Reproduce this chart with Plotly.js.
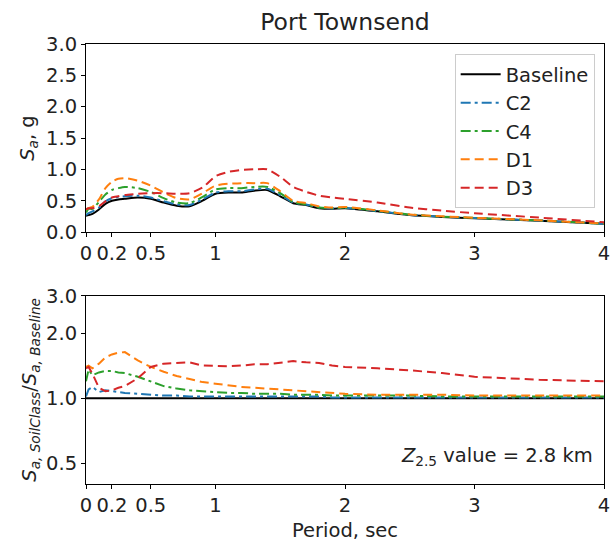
<!DOCTYPE html>
<html>
<head>
<meta charset="utf-8">
<script src="https://cdn.plot.ly/plotly-3.0.1.min.js"></script>
<style>html,body{margin:0;padding:0;background:#fff;}#chart{width:612px;height:544px;}</style>
</head>
<body>
<div id="chart"></div>
<script>
// Periods (sec)
var period = [0, 0.02, 0.05, 0.1, 0.15, 0.2, 0.25, 0.3, 0.4, 0.5, 0.6, 0.7, 0.8, 0.9, 1.0, 1.1, 1.2, 1.3, 1.4, 1.5, 1.6, 1.7, 1.8, 1.9, 2.0, 2.25, 2.5, 2.75, 3.0, 3.5, 4.0];

// Spectral acceleration, g (top panel)
var saBaseline = [0.26, 0.27, 0.29, 0.36, 0.45, 0.50, 0.52, 0.53, 0.55, 0.53, 0.47, 0.42, 0.41, 0.50, 0.61, 0.63, 0.63, 0.66, 0.67, 0.57, 0.46, 0.43, 0.38, 0.37, 0.38, 0.33, 0.27, 0.24, 0.22, 0.18, 0.13];
var saC2 = [0.27, 0.30, 0.33, 0.39, 0.49, 0.54, 0.56, 0.57, 0.58, 0.55, 0.49, 0.44, 0.43, 0.52, 0.63, 0.65, 0.65, 0.68, 0.69, 0.59, 0.47, 0.44, 0.39, 0.375, 0.385, 0.335, 0.273, 0.243, 0.222, 0.182, 0.131];
var saC4 = [0.31, 0.37, 0.37, 0.48, 0.60, 0.67, 0.70, 0.72, 0.70, 0.64, 0.54, 0.47, 0.46, 0.56, 0.68, 0.70, 0.70, 0.72, 0.72, 0.62, 0.48, 0.44, 0.39, 0.38, 0.39, 0.34, 0.28, 0.245, 0.225, 0.185, 0.133];
var saD1 = [0.36, 0.38, 0.40, 0.52, 0.70, 0.80, 0.85, 0.86, 0.82, 0.74, 0.63, 0.54, 0.52, 0.62, 0.74, 0.77, 0.78, 0.78, 0.78, 0.65, 0.50, 0.46, 0.41, 0.39, 0.40, 0.345, 0.28, 0.25, 0.227, 0.186, 0.134];
var saD3 = [0.36, 0.38, 0.38, 0.41, 0.49, 0.55, 0.57, 0.59, 0.61, 0.62, 0.62, 0.61, 0.62, 0.71, 0.89, 0.96, 0.99, 1.00, 1.00, 0.88, 0.72, 0.64, 0.58, 0.55, 0.53, 0.47, 0.39, 0.34, 0.30, 0.23, 0.156];

// Ratio Sa,SoilClass / Sa,Baseline (bottom panel)
var rBaseline = [1, 1, 1, 1, 1, 1, 1, 1, 1, 1, 1, 1, 1, 1, 1, 1, 1, 1, 1, 1, 1, 1, 1, 1, 1, 1, 1, 1, 1, 1, 1];
var rC2 = [1.02, 1.10, 1.13, 1.07, 1.09, 1.08, 1.07, 1.06, 1.05, 1.04, 1.03, 1.03, 1.02, 1.02, 1.02, 1.02, 1.02, 1.02, 1.02, 1.02, 1.02, 1.02, 1.02, 1.01, 1.01, 1.01, 1.01, 1.01, 1.01, 1.01, 1.01];
var rC4 = [1.20, 1.36, 1.28, 1.32, 1.34, 1.34, 1.32, 1.31, 1.26, 1.20, 1.14, 1.11, 1.09, 1.08, 1.07, 1.06, 1.06, 1.05, 1.05, 1.05, 1.04, 1.04, 1.04, 1.03, 1.03, 1.03, 1.03, 1.02, 1.02, 1.02, 1.02];
var rD1 = [1.40, 1.42, 1.38, 1.45, 1.55, 1.60, 1.63, 1.64, 1.50, 1.40, 1.33, 1.27, 1.23, 1.19, 1.17, 1.15, 1.13, 1.12, 1.11, 1.10, 1.09, 1.08, 1.07, 1.06, 1.05, 1.04, 1.04, 1.04, 1.03, 1.03, 1.03];
var rD3 = [1.38, 1.40, 1.30, 1.12, 1.08, 1.09, 1.12, 1.14, 1.24, 1.40, 1.45, 1.46, 1.47, 1.42, 1.41, 1.41, 1.42, 1.44, 1.44, 1.46, 1.49, 1.47, 1.46, 1.42, 1.40, 1.38, 1.35, 1.31, 1.26, 1.22, 1.20];

var seriesNames = ['Baseline', 'C2', 'C4', 'D1', 'D3'];
var seriesColors = ['#000000', '#1f77b4', '#2ca02c', '#ff7f0e', '#d62728'];
var seriesDash = ['solid', '10px,4px,3px,4px', '10px,4px,3px,4px', '9px,5px', '9px,5px'];
var saSeries = [saBaseline, saC2, saC4, saD1, saD3];
var ratioSeries = [rBaseline, rC2, rC4, rD1, rD3];

var xTickVals = [0, 0.2, 0.5, 1, 2, 3, 4];
var xTickText = ['0', '0.2', '0.5', '1', '2', '3', '4'];
var topYTicks = [0, 0.5, 1.0, 1.5, 2.0, 2.5, 3.0];
var botYTicks = [0.5, 1, 2, 3];
var botYText = ['0.5', '1.0', '2.0', '3.0'];

var traces = [];
for (var i = 0; i < seriesNames.length; i++) {
  traces.push({
    x: period, y: saSeries[i], name: seriesNames[i], type: 'scatter', mode: 'lines',
    xaxis: 'x', yaxis: 'y', legendgroup: 'g' + i,
    line: {color: seriesColors[i], width: 2, dash: seriesDash[i], shape: 'spline', smoothing: 0.6}
  });
}
for (var j = 0; j < seriesNames.length; j++) {
  traces.push({
    x: period, y: ratioSeries[j], name: seriesNames[j], type: 'scatter', mode: 'lines',
    xaxis: 'x2', yaxis: 'y2', showlegend: false, legendgroup: 'g' + j,
    line: {color: seriesColors[j], width: 2, dash: seriesDash[j]}
  });
}

var FAM = 'DejaVu Sans, sans-serif';
var FS = 19.5;
var fnt = {family: FAM, size: FS, color: '#222'};
var axisCommon = {
  showline: true, linecolor: '#000', linewidth: 1, mirror: true,
  ticks: 'outside', ticklen: 4, tickwidth: 1, tickcolor: '#000',
  showgrid: false, zeroline: false, tickfont: fnt
};

var layout = {
  width: 612, height: 544,
  margin: {l: 86, r: 8, t: 44, b: 60},
  paper_bgcolor: '#fff', plot_bgcolor: '#fff',
  font: fnt,
  showlegend: true,
  title: {text: 'Port Townsend', font: {family: FAM, size: 23.5, color: '#222'},
          x: 0.5, xref: 'paper', y: 0.96, yref: 'container', yanchor: 'middle'},
  xaxis: Object.assign({}, axisCommon, {domain: [0, 1], range: [0, 4], tickvals: xTickVals, ticktext: xTickText, anchor: 'y'}),
  yaxis: Object.assign({}, axisCommon, {domain: [0.5727, 1], range: [0, 3], tickvals: topYTicks, tickformat: '.1f', anchor: 'x',
    title: {text: '<i>S</i><sub><i>a</i></sub>, g', font: fnt, standoff: 6}}),
  xaxis2: Object.assign({}, axisCommon, {domain: [0, 1], range: [0, 4], tickvals: xTickVals, ticktext: xTickText, anchor: 'y2',
    title: {text: 'Period, sec', font: fnt, standoff: 6}}),
  yaxis2: Object.assign({}, axisCommon, {domain: [0, 0.428], type: 'log', range: [Math.log10(0.4), Math.log10(3)],
    tickvals: botYTicks, ticktext: botYText, anchor: 'x2',
    title: {text: '<i>S</i><sub><i>a, SoilClass</i></sub>/<i>S</i><sub><i>a, Baseline</i></sub>', font: fnt, standoff: 4}}),
  legend: {x: 0.982, xanchor: 'right', y: 0.977, yanchor: 'top', bgcolor: 'rgba(255,255,255,0.85)',
    bordercolor: '#cccccc', borderwidth: 1, font: fnt,
    tracegroupgap: 0, itemwidth: 40},
  annotations: [{
    text: '<i>Z</i><sub>2.5</sub> value = 2.8 km', xref: 'x2', yref: 'y2', x: 3.93, y: Math.log10(0.535),
    xanchor: 'right', yanchor: 'middle', showarrow: false,
    font: fnt
  }]
};

Plotly.newPlot('chart', traces, layout, {displayModeBar: false, staticPlot: true});
</script>
</body>
</html>
